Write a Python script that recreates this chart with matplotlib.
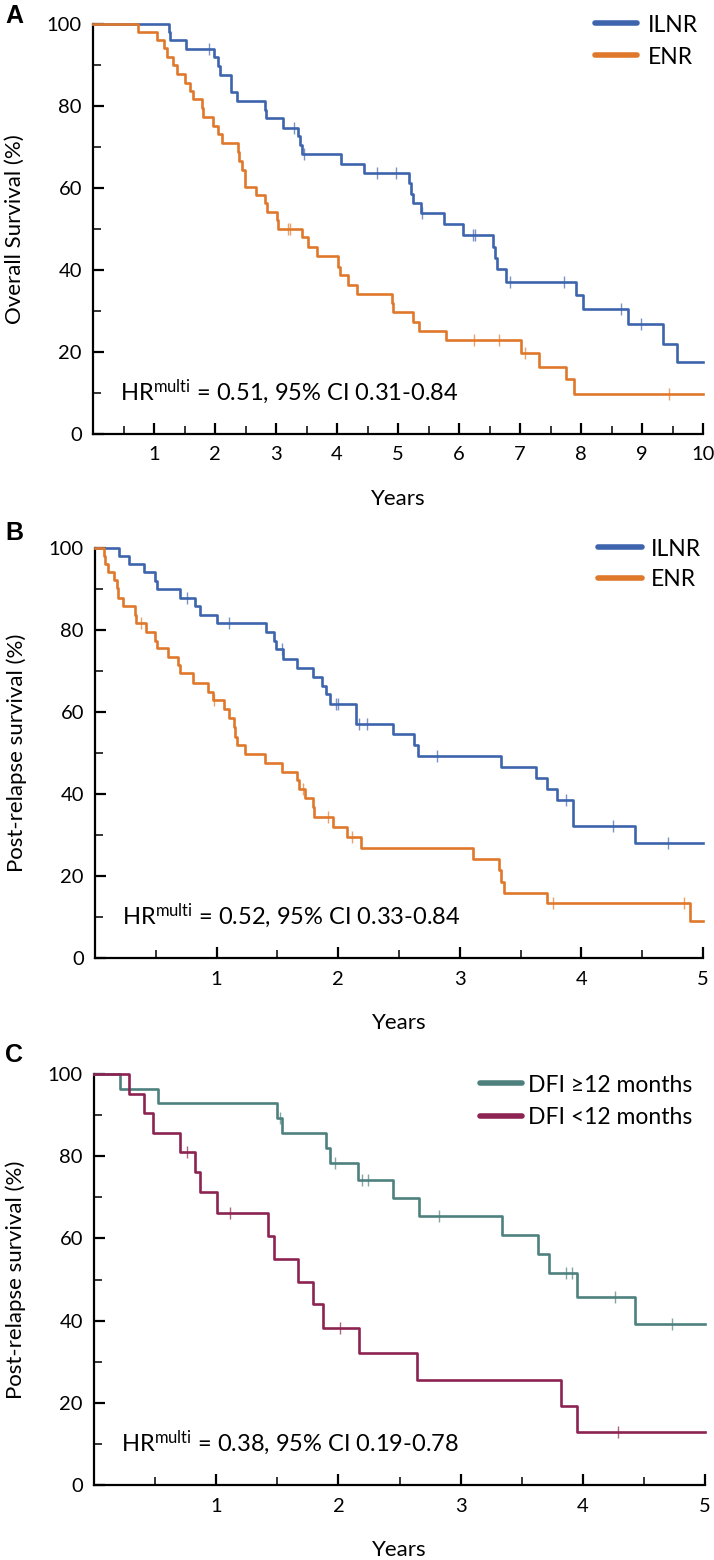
import numpy as np
import matplotlib
matplotlib.use('Agg')
import matplotlib.pyplot as plt
from matplotlib.lines import Line2D

plt.rcParams['font.family'] = ['Lato', 'DejaVu Sans']
plt.rcParams['mathtext.fontset'] = 'custom'
plt.rcParams['mathtext.rm'] = 'Lato'
plt.rcParams['mathtext.it'] = 'Lato'

# ---- data ----
# Panel A: overall survival, 0-10 years
a_ilnr_t = [0, 1.25, 1.27, 1.53, 1.99, 2.05, 2.08, 2.26, 2.36, 2.82, 2.84, 3.11, 3.36, 3.39, 3.43,
            4.06, 4.44, 5.18, 5.21, 5.25, 5.37, 5.75, 6.07, 6.56, 6.59, 6.62, 6.77, 7.92, 8.03,
            8.77, 9.35, 9.57]
a_ilnr_s = [100, 98, 96.1, 93.9, 92, 89.8, 87.6, 83.4, 81.3, 79, 77, 74.6, 72.7, 70.5, 68.3,
            65.9, 63.7, 61.2, 58.5, 56.3, 53.9, 51.2, 48.5, 45.6, 42.9, 40.2, 37.1, 33.9, 30.5,
            26.8, 22.0, 17.6]
a_ilnr_cens = [1.90, 3.30, 3.46, 4.66, 4.97, 5.40, 6.23, 6.26, 6.84, 7.72, 8.66, 8.98]

a_enr_t = [0, 0.73, 1.05, 1.16, 1.21, 1.31, 1.37, 1.51, 1.59, 1.64, 1.78, 1.81, 1.97, 2.05, 2.11,
           2.37, 2.40, 2.44, 2.49, 2.68, 2.82, 2.85, 3.01, 3.04, 3.43, 3.53, 3.67, 4.02, 4.05,
           4.18, 4.33, 4.90, 4.92, 5.25, 5.35, 5.79, 7.02, 7.31, 7.75, 7.89]
a_enr_s = [100, 98, 96.1, 94.1, 92, 90, 87.8, 85.6, 83.7, 81.7, 79.5, 77.4, 75.1, 73.2, 71,
           68.8, 66.6, 64.5, 60.3, 58.3, 56.3, 54.2, 52.2, 50.0, 48.0, 45.6, 43.4, 40.8, 38.8,
           36.4, 34.1, 32.0, 29.8, 27.3, 25.1, 22.9, 19.8, 16.4, 13.4, 9.8]
a_enr_cens = [3.20, 3.23, 6.25, 6.66, 7.08, 9.44]

# Panel B: post-relapse survival, 0-5 years
b_ilnr_t = [0, 0.20, 0.28, 0.40, 0.49, 0.51, 0.70, 0.82, 0.86, 1.00, 1.41, 1.47, 1.49, 1.55, 1.66,
            1.79, 1.87, 1.90, 1.93, 2.15, 2.45, 2.62, 2.66, 3.34, 3.63, 3.72, 3.80, 3.93, 4.44]
b_ilnr_s = [100, 98, 96.1, 94.1, 92, 90, 87.8, 85.9, 83.7, 81.7, 79.5, 77.3, 75.4, 72.9, 70.7,
            68.5, 66.3, 64.4, 61.9, 57.1, 54.6, 51.9, 49.2, 46.6, 43.9, 41.2, 38.5, 32.2, 28.0]
b_ilnr_cens = [0.76, 1.10, 1.54, 1.98, 2.00, 2.17, 2.24, 2.81, 3.87, 4.26, 4.71]

b_enr_t = [0, 0.07, 0.08, 0.11, 0.16, 0.18, 0.19, 0.23, 0.33, 0.34, 0.42, 0.49, 0.51, 0.60, 0.68,
           0.70, 0.81, 0.93, 0.97, 1.06, 1.10, 1.14, 1.15, 1.17, 1.23, 1.40, 1.54, 1.66, 1.68,
           1.73, 1.79, 1.80, 1.96, 2.07, 2.19, 3.11, 3.32, 3.34, 3.36, 3.72, 4.89]
b_enr_s = [100, 98, 96.2, 94.1, 92.2, 90.2, 87.8, 85.9, 83.7, 81.7, 79.5, 77.3, 75.5, 73.5, 71.5,
           69.4, 67.1, 65.0, 62.9, 60.8, 58.5, 56.3, 53.9, 51.9, 49.8, 47.6, 45.4, 43.4, 41.2,
           39.0, 36.8, 34.4, 32.0, 29.5, 26.8, 24.1, 21.5, 18.5, 15.9, 13.4, 9.0]
b_enr_cens = [0.38, 0.98, 1.71, 1.92, 2.11, 3.77, 4.84]

# Panel C: post-relapse survival by disease-free interval
c_long_t = [0, 0.21, 0.52, 1.50, 1.54, 1.90, 1.93, 2.16, 2.45, 2.66, 3.34, 3.63, 3.72, 3.95, 4.43]
c_long_s = [100, 96.4, 92.9, 89.3, 85.6, 82.0, 78.3, 74.2, 69.8, 65.4, 60.8, 56.3, 51.7, 45.7, 39.2]
c_long_cens = [1.52, 1.97, 2.19, 2.24, 2.82, 3.86, 3.91, 4.26, 4.73]

c_short_t = [0, 0.29, 0.41, 0.48, 0.70, 0.83, 0.87, 1.01, 1.42, 1.47, 1.67, 1.79, 1.87, 2.17,
             2.64, 3.82, 3.95]
c_short_s = [100, 95.2, 90.5, 85.7, 81.0, 76.2, 71.4, 66.2, 60.6, 55.0, 49.4, 44.0, 38.3, 32.1,
             25.6, 19.1, 12.8]
c_short_cens = [0.76, 1.11, 2.01, 4.29]

BLUE = '#3d64ad'
ORANGE = '#e0782b'
TEAL = '#4e817e'
MAROON = '#8c2352'

W, H = 714, 1560
fig = plt.figure(figsize=(W / 100, H / 100), dpi=100)


def fx(px):
    return px / W


def fy(py):
    return 1 - py / H


def km(ax, t, s, cens, end, color):
    t = list(t) + [end]
    s = list(s) + [s[-1]]
    ax.step(t, s, where='post', color=color, lw=1.9, clip_on=False, zorder=3)
    # censor marks sit on the curve value at that time
    idx = np.searchsorted(t, cens, side='right') - 1
    ys = [s[i] for i in idx]
    ax.plot(cens, ys, ls='none', marker='|', ms=9, mew=1.0, color=color, alpha=0.7,
            clip_on=False, zorder=4)


def style(ax, xmax, ylabel, hr):
    ax.set_xlim(0, xmax)
    ax.set_ylim(0, 100)
    for side in ['top', 'right']:
        ax.spines[side].set_visible(False)
    for side in ['left', 'bottom']:
        ax.spines[side].set_linewidth(1.6)
    ax.set_xticks(range(1, xmax + 1))
    ax.set_xticks(np.arange(0.5, xmax, 1.0), minor=True)
    ax.set_yticks(range(0, 101, 20))
    ax.set_yticks(range(10, 100, 20), minor=True)
    ax.tick_params(which='major', direction='in', length=8, width=1.6, labelsize=14.5)
    ax.tick_params(which='minor', direction='in', length=6, width=1.1)
    ax.tick_params(axis='x', pad=9)
    ax.tick_params(axis='y', pad=8)
    ax.set_ylabel(ylabel, fontsize=16, va='center')
    ax.yaxis.set_label_coords(-0.128, 0.5)
    ax.text(0.5, -0.158, 'Years', transform=ax.transAxes, ha='center', va='center',
            fontsize=16)
    ax.text(0.044, 8.3, hr, transform=ax.get_yaxis_transform(), ha='left', va='baseline',
            fontsize=17)
    ax.patch.set_visible(False)


def legend(items, x0, x1, xt, ys):
    for (label, color), y in zip(items, ys):
        fig.add_artist(Line2D([fx(x0), fx(x1)], [fy(y), fy(y)], color=color, lw=4,
                              solid_capstyle='round', transform=fig.transFigure))
        fig.text(fx(xt), fy(y + 8.5), label, ha='left', va='baseline', fontsize=16.5)


# Panel A
axA = fig.add_axes([fx(93), fy(434), fx(703 - 93), (434 - 24) / H])
km(axA, a_ilnr_t, a_ilnr_s, a_ilnr_cens, 10, BLUE)
km(axA, a_enr_t, a_enr_s, a_enr_cens, 10, ORANGE)
style(axA, 10, 'Overall Survival (%)', r'HR$^{\mathrm{multi}}$ = 0.51, 95% CI 0.31-0.84')
legend([('ILNR', BLUE), ('ENR', ORANGE)], 595, 637, 648, [23, 55])

# Panel B
axB = fig.add_axes([fx(95), fy(958), fx(703 - 95), (958 - 548) / H])
km(axB, b_ilnr_t, b_ilnr_s, b_ilnr_cens, 5, BLUE)
km(axB, b_enr_t, b_enr_s, b_enr_cens, 5, ORANGE)
style(axB, 5, 'Post-relapse survival (%)', r'HR$^{\mathrm{multi}}$ = 0.52, 95% CI 0.33-0.84')
legend([('ILNR', BLUE), ('ENR', ORANGE)], 598, 642, 651, [547, 578])

# Panel C
axC = fig.add_axes([fx(94), fy(1485), fx(705 - 94), (1485 - 1074) / H])
km(axC, c_long_t, c_long_s, c_long_cens, 5, TEAL)
km(axC, c_short_t, c_short_s, c_short_cens, 5, MAROON)
style(axC, 5, 'Post-relapse survival (%)', r'HR$^{\mathrm{multi}}$ = 0.38, 95% CI 0.19-0.78')
legend([('DFI \u226512 months', TEAL), ('DFI <12 months', MAROON)], 480, 522, 528, [1083, 1116])

# Panel letters
for letter, base in [('A', 23), ('B', 540), ('C', 1062)]:
    fig.text(fx(5), fy(base), letter, ha='left', va='baseline', fontsize=18,
             fontweight='bold', family='Liberation Sans')

fig.savefig('out.png', dpi=100)
